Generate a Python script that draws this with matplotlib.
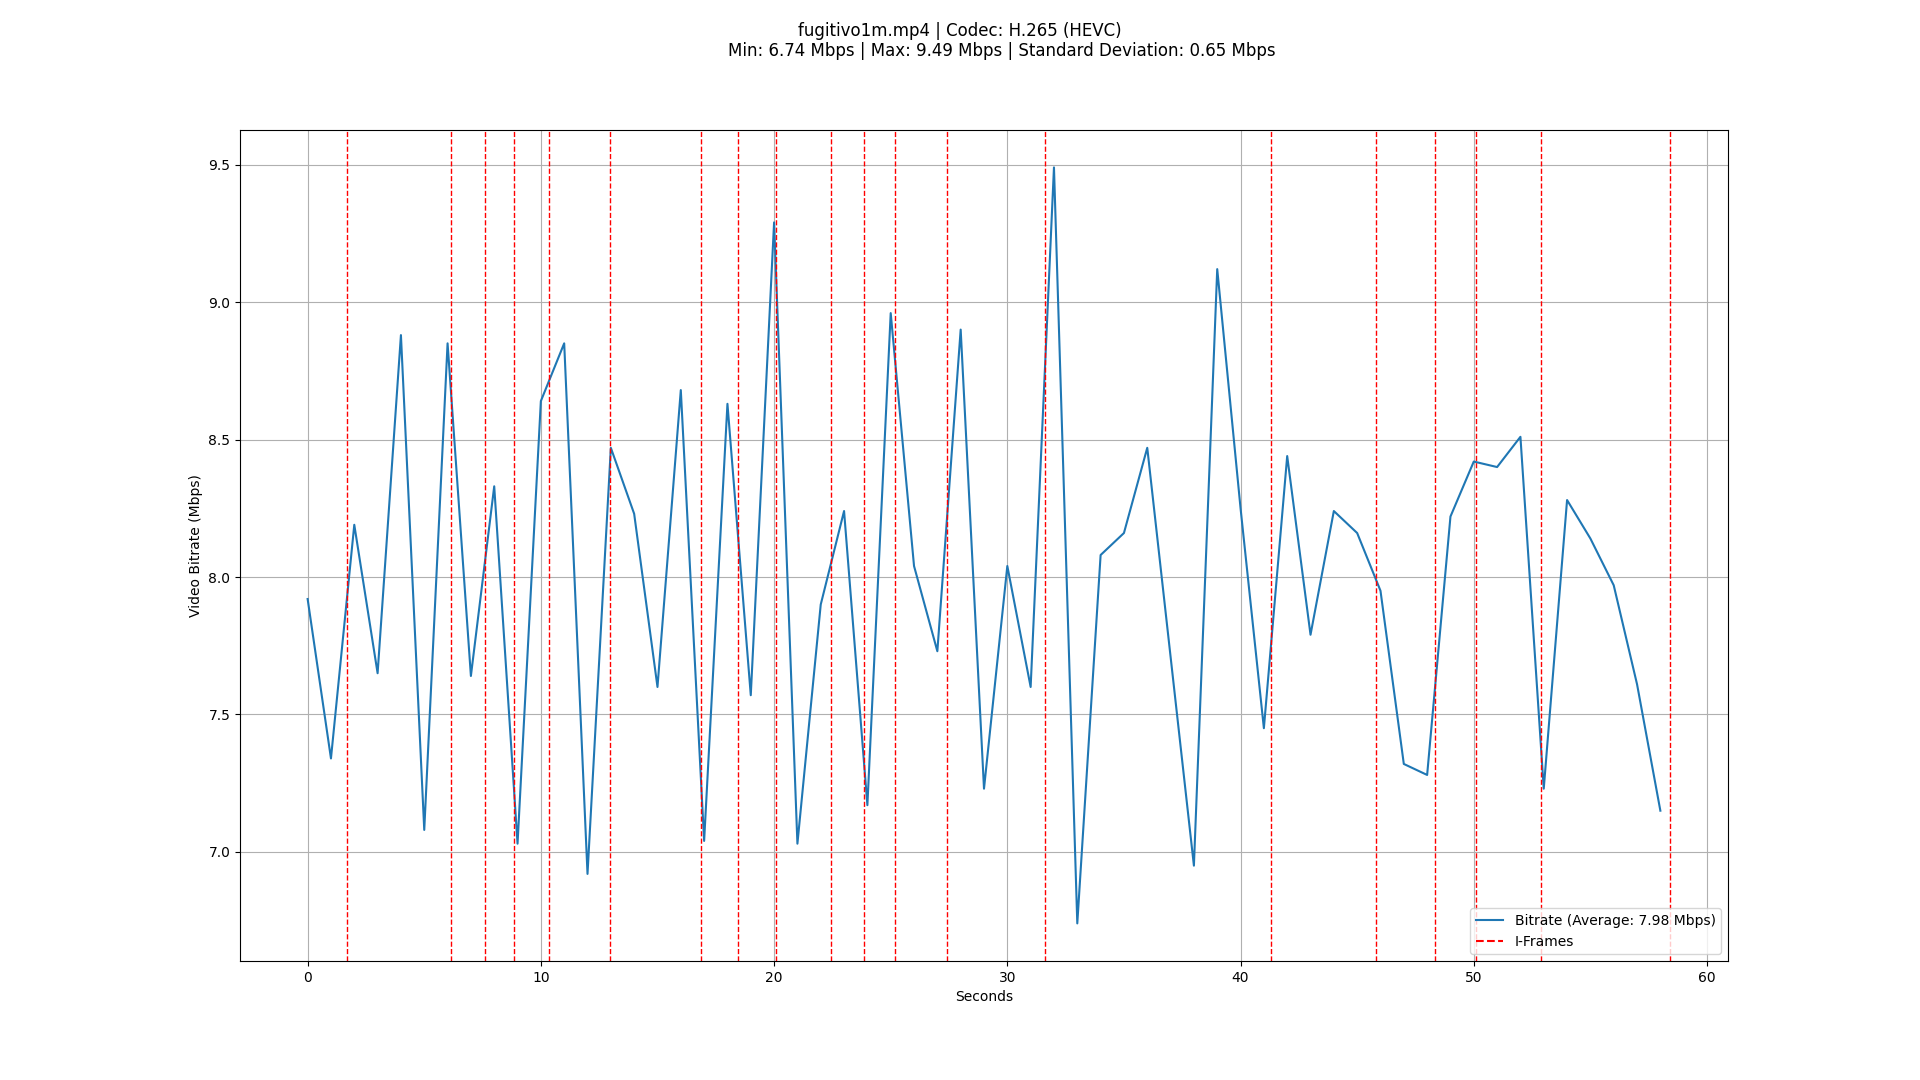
import matplotlib
matplotlib.use("Agg")
import matplotlib.pyplot as plt
from matplotlib.lines import Line2D

# bitrate per second (Mbps)
seconds = list(range(59))
bitrate = [7.92, 7.34, 8.19, 7.65, 8.88, 7.08, 8.85, 7.64, 8.33, 7.03,
           8.64, 8.85, 6.92, 8.47, 8.23, 7.60, 8.68, 7.04, 8.63, 7.57,
           9.29, 7.03, 7.90, 8.24, 7.17, 8.96, 8.04, 7.73, 8.90, 7.23,
           8.04, 7.60, 9.49, 6.74, 8.08, 8.16, 8.47, 7.71, 6.95, 9.12,
           8.25, 7.45, 8.44, 7.79, 8.24, 8.16, 7.95, 7.32, 7.28, 8.22,
           8.42, 8.40, 8.51, 7.23, 8.28, 8.14, 7.97, 7.61, 7.15]

# I-frame timestamps (s)
iframes = [1.70, 6.15, 7.60, 8.85, 10.34, 12.95, 16.85, 18.44, 20.10, 22.44,
           23.87, 25.19, 27.41, 31.61, 41.29, 45.80, 48.34, 50.09, 52.87, 58.40]

title = ("fugitivo1m.mp4 | Codec: H.265 (HEVC)\n"
         "                Min: 6.74 Mbps | Max: 9.49 Mbps | Standard Deviation: 0.65 Mbps")

fig, ax = plt.subplots(figsize=(19.2, 10.8), dpi=100)
line, = ax.plot(seconds, bitrate, label="Bitrate (Average: 7.98 Mbps)")
for t in iframes:
    ax.axvline(t, color="r", linestyle="--", linewidth=1)

ax.set_xlim(-2.9, 60.9)
ax.set_xlabel("Seconds")
ax.set_ylabel("Video Bitrate (Mbps)")
ax.grid(True)

# legend handle for the I-frames is drawn at the default width
iframe_handle = Line2D([0], [0], color="r", linestyle="--", label="I-Frames")
ax.legend(handles=[line, iframe_handle], loc="lower right")
fig.suptitle(title)

fig.savefig("out.png")
